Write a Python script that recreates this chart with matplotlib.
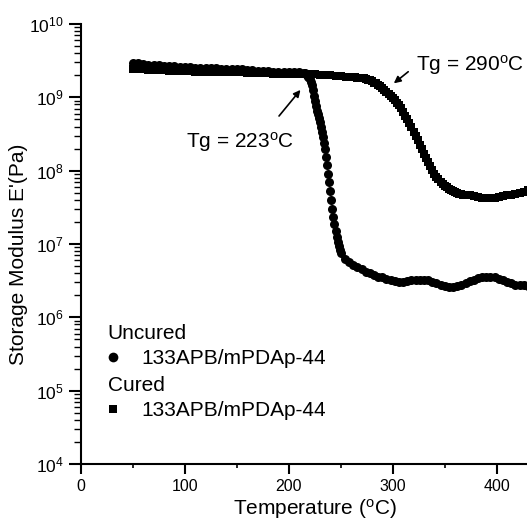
import numpy as np
import matplotlib
matplotlib.use("Agg")
import matplotlib.pyplot as plt
from matplotlib.lines import Line2D

plt.rcParams['font.family'] = ['Liberation Sans', 'DejaVu Sans']
plt.rcParams['mathtext.fontset'] = 'custom'
plt.rcParams['mathtext.rm'] = 'Liberation Sans'
plt.rcParams['mathtext.it'] = 'Liberation Sans:italic'

# uncured sample temps (C) and storage modulus (Pa)
uncured_T = np.concatenate([np.arange(50, 216, 5), np.arange(216, 251, 1), np.arange(254, 431, 4)])
uncured_E = [
    2.9e9, 2.9e9, 2.85e9, 2.8e9, 2.75e9, 2.75e9, 2.7e9, 2.7e9, 2.65e9, 2.6e9,
    2.6e9, 2.6e9, 2.55e9, 2.55e9, 2.5e9, 2.5e9, 2.5e9, 2.45e9, 2.45e9, 2.4e9,
    2.4e9, 2.4e9, 2.35e9, 2.35e9, 2.3e9, 2.3e9, 2.3e9, 2.25e9, 2.25e9, 2.25e9,
    2.2e9, 2.2e9, 2.2e9, 2.15e9,
    # 216-250
    2.14e9, 2.09e9, 2.0e9, 1.91e9, 1.78e9, 1.62e9, 1.45e9, 1.26e9, 1.05e9, 8.9e8,
    7.6e8, 6.6e8, 5.9e8, 5.2e8, 4.6e8, 4.0e8, 3.4e8, 2.9e8, 2.4e8, 1.95e8,
    1.55e8, 1.2e8, 9.1e7, 6.9e7, 5.2e7, 4.0e7, 3.0e7, 2.3e7, 1.86e7, 1.51e7,
    1.26e7, 1.07e7, 9.3e6, 8.3e6, 7.6e6,
    # 254-430
    6.3e6, 5.6e6, 5.1e6, 4.8e6, 4.5e6, 4.2e6, 4.0e6, 3.8e6, 3.6e6, 3.5e6,
    3.3e6, 3.2e6, 3.1e6, 3.0e6, 3.0e6, 3.1e6, 3.2e6, 3.2e6, 3.2e6, 3.2e6,
    3.2e6, 3.0e6, 2.9e6, 2.75e6, 2.7e6, 2.6e6, 2.6e6, 2.7e6, 2.8e6, 2.95e6,
    3.1e6, 3.2e6, 3.4e6, 3.5e6, 3.55e6, 3.55e6, 3.5e6, 3.3e6, 3.2e6, 3.0e6,
    2.9e6, 2.8e6, 2.75e6, 2.75e6, 2.7e6,
]

# cured
cured_T = np.concatenate([np.arange(50, 261, 5), np.arange(262, 371, 2), np.arange(374, 435, 4)])
cured_E = [
    2.4e9, 2.4e9, 2.4e9, 2.35e9, 2.35e9, 2.35e9, 2.35e9, 2.3e9, 2.3e9, 2.3e9,
    2.3e9, 2.3e9, 2.25e9, 2.25e9, 2.25e9, 2.25e9, 2.25e9, 2.2e9, 2.2e9, 2.2e9,
    2.2e9, 2.2e9, 2.15e9, 2.15e9, 2.15e9, 2.15e9, 2.15e9, 2.1e9, 2.1e9, 2.1e9,
    2.1e9, 2.1e9, 2.05e9, 2.05e9, 2.05e9, 2.05e9, 2.0e9, 2.0e9, 2.0e9, 1.95e9,
    1.95e9, 1.9e9, 1.9e9,
    # 262-370
    1.9e9, 1.9e9, 1.86e9, 1.86e9, 1.82e9, 1.82e9, 1.78e9, 1.74e9, 1.7e9, 1.66e9,
    1.58e9, 1.55e9, 1.48e9, 1.41e9, 1.35e9, 1.26e9, 1.2e9, 1.12e9, 1.05e9, 9.8e8,
    9.1e8, 8.5e8, 7.8e8, 7.1e8, 6.3e8, 5.6e8, 5.0e8, 4.5e8, 3.9e8, 3.4e8,
    2.95e8, 2.6e8, 2.25e8, 1.95e8, 1.7e8, 1.48e8, 1.32e8, 1.15e8, 1.02e8, 9.1e7,
    8.3e7, 7.6e7, 7.1e7, 6.6e7, 6.2e7, 5.9e7, 5.6e7, 5.4e7, 5.2e7, 5.1e7,
    4.9e7, 4.8e7, 4.8e7, 4.7e7, 4.7e7,
    # 374-434
    4.6e7, 4.5e7, 4.4e7, 4.3e7, 4.3e7, 4.3e7, 4.3e7, 4.4e7, 4.5e7, 4.6e7,
    4.7e7, 4.8e7, 5.0e7, 5.1e7, 5.4e7, 5.5e7,
]

sample = '133APB/mPDAp-44'

fig = plt.figure(figsize=(5.27, 5.23), dpi=100)
# axes runs past the right edge, the original is cropped there
ax = fig.add_axes([80.7 / 527, 59 / 523, 520 / 527, 440 / 523])

ax.plot(cured_T, cured_E, 's', color='black', ms=6, mew=0)
ax.plot(uncured_T, uncured_E, 'o', color='black', ms=6.5, mew=0)

ax.set_yscale('log')
ax.set_ylim(1e4, 1e10)
ax.set_xlim(0, 500)
ax.set_xticks([0, 100, 200, 300, 400])
ax.set_xticks([50, 150, 250, 350, 450], minor=True)

for s in ['top', 'right']:
    ax.spines[s].set_visible(False)
for s in ['left', 'bottom']:
    ax.spines[s].set_linewidth(1.5)

ax.tick_params(axis='both', which='major', width=1.5)
ax.tick_params(axis='x', which='major', direction='out', length=7, labelsize=11.5)
ax.tick_params(axis='x', which='minor', direction='out', length=3, width=1.2)
ax.tick_params(axis='y', which='major', direction='out', length=9, pad=3, labelsize=12.5)
ax.tick_params(axis='y', which='minor', direction='out', length=5, width=1.0)

ax.set_xlabel(r'Temperature ($^\mathrm{o}$C)', fontsize=15)
ax.set_ylabel("Storage Modulus E'(Pa)", fontsize=15)
ax.xaxis.set_label_coords(0.45, -0.076)
ax.yaxis.set_label_coords(-0.101, 0.477)

# Tg arrows
ax.annotate('', xy=(299, 1.47e9), xytext=(317, 2.36e9),
            arrowprops=dict(arrowstyle='-|>', color='black', lw=1.2, mutation_scale=10))
ax.text(374, 2.76e9, r'Tg = 290$^\mathrm{o}$C', fontsize=15, ha='center', va='center')
ax.annotate('', xy=(213, 1.35e9), xytext=(189, 5.2e8),
            arrowprops=dict(arrowstyle='-|>', color='black', lw=1.2, mutation_scale=10))
ax.text(153, 2.45e8, r'Tg = 223$^\mathrm{o}$C', fontsize=15, ha='center', va='center')

# legend: two blocks with headers
circ = Line2D([], [], ls='none', marker='o', color='black', ms=7, mew=0)
sq = Line2D([], [], ls='none', marker='s', color='black', ms=6, mew=0)
leg_kw = dict(frameon=False, fontsize=15, title_fontsize=15, loc='upper left',
              alignment='left', borderpad=0, borderaxespad=0, handlelength=0.5,
              handletextpad=1.1, labelspacing=0.3)
leg1 = ax.legend([circ], [sample], title='Uncured', bbox_to_anchor=(0.052, 0.318), **leg_kw)
ax.add_artist(leg1)
ax.legend([sq], [sample], title='Cured', bbox_to_anchor=(0.052, 0.2), **leg_kw)

fig.savefig('out.png', dpi=100)
